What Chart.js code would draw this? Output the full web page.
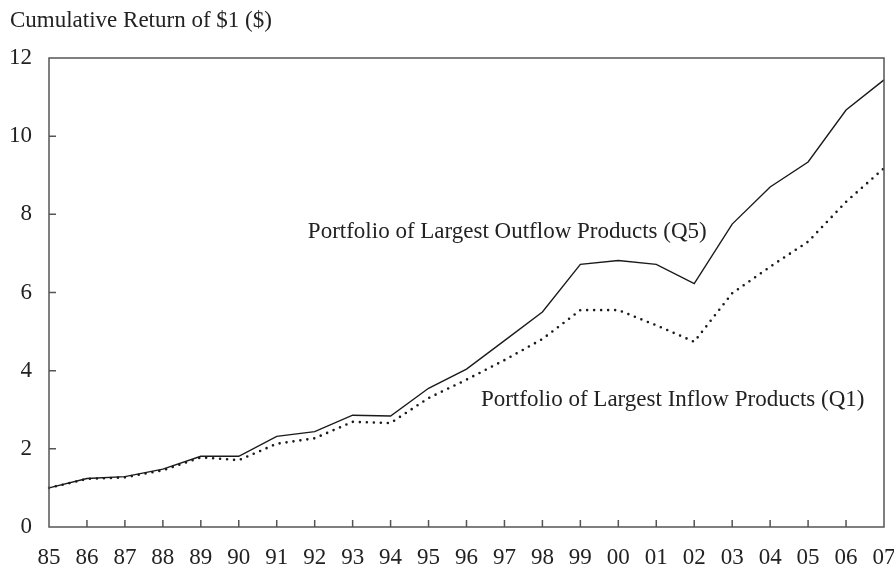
<!DOCTYPE html>
<html>
<head>
<meta charset="utf-8">
<script src="https://cdn.jsdelivr.net/npm/chart.js@4"></script>
<style>
    html, body { margin: 0; padding: 0; background: #fff; }
</style>
</head>
<body>
<canvas id="chart" width="894" height="567"></canvas>
<script>
"use strict";

// x軸：年
const years = ["85", "86", "87", "88", "89", "90", "91", "92", "93", "94", "95", "96",
               "97", "98", "99", "00", "01", "02", "03", "04", "05", "06", "07"];
// 流出最大ポートフォリオ (Q5)
const outflowQ5 = [1.00, 1.24, 1.29, 1.48, 1.81, 1.81, 2.32, 2.44, 2.86, 2.84, 3.55, 4.04,
                   4.77, 5.50, 6.72, 6.82, 6.72, 6.23, 7.75, 8.70, 9.34, 10.67, 11.44];
// 流入最大ポートフォリオ (Q1)
const inflowQ1 = [1.00, 1.23, 1.27, 1.45, 1.78, 1.71, 2.13, 2.27, 2.69, 2.66, 3.30, 3.77,
                  4.27, 4.81, 5.55, 5.55, 5.16, 4.74, 5.98, 6.66, 7.30, 8.32, 9.18];
// y軸の目盛
const yTicks = [0, 2, 4, 6, 8, 10, 12];

const FONT = "'Liberation Serif', 'Times New Roman', serif";
const FONT_SIZE = 23;
const TEXT_COLOR = "#222";
const AXIS_COLOR = "#555";

// 枠線と内向きの目盛線
const frameTicks = {
    id: "frameTicks",
    afterDraw(chart) {
        const { ctx, chartArea: { left, right, top, bottom }, scales: { x, y } } = chart;
        ctx.save();
        ctx.strokeStyle = AXIS_COLOR;
        ctx.lineWidth = 1.5;
        ctx.strokeRect(left, top, right - left, bottom - top);
        ctx.beginPath();
        x.ticks.forEach((t, i) => {
            if (i === 0 || i === x.ticks.length - 1) return;
            const px = x.getPixelForTick(i);
            ctx.moveTo(px, bottom);
            ctx.lineTo(px, bottom - 7);
        });
        y.ticks.forEach((t, i) => {
            if (i === 0 || i === y.ticks.length - 1) return;
            const py = y.getPixelForTick(i);
            ctx.moveTo(left, py);
            ctx.lineTo(left + 7, py);
        });
        ctx.stroke();
        ctx.restore();
    }
};

// 系列ラベル
const seriesLabels = {
    id: "seriesLabels",
    afterDraw(chart) {
        const { ctx, scales: { x, y } } = chart;
        const labels = [
            { text: "Portfolio of Largest Outflow Products (Q5)", at: [6.82, 7.55] },
            { text: "Portfolio of Largest Inflow Products (Q1)", at: [11.38, 3.24] },
        ];
        ctx.save();
        ctx.font = FONT_SIZE + "px " + FONT;
        ctx.fillStyle = TEXT_COLOR;
        ctx.textAlign = "left";
        ctx.textBaseline = "middle";
        labels.forEach(l => {
            ctx.fillText(l.text, x.getPixelForValue(l.at[0]), y.getPixelForValue(l.at[1]));
        });
        ctx.restore();
    }
};

const ctx = document.getElementById("chart");
new Chart(ctx, {
    type: "line",
    data: {
        labels: years,
        datasets: [
            {
                label: "Portfolio of Largest Outflow Products (Q5)",
                data: outflowQ5,
                borderColor: "#1a1a1a",
                borderWidth: 1.4,
                pointRadius: 0,
                tension: 0
            },
            {
                label: "Portfolio of Largest Inflow Products (Q1)",
                data: inflowQ1,
                borderColor: "#1a1a1a",
                borderWidth: 2.6,
                borderDash: [0, 7],
                borderCapStyle: "round",
                pointRadius: 0,
                tension: 0
            }
        ]
    },
    options: {
        responsive: false,
        animation: false,
        layout: { padding: { left: 10, right: 10, top: 0, bottom: 0 } },
        plugins: {
            legend: { display: false },
            tooltip: { enabled: false },
            title: {
                display: true,
                text: "Cumulative Return of $1 ($)",
                align: "start",
                color: TEXT_COLOR,
                font: { family: FONT, size: FONT_SIZE, weight: "normal" },
                padding: { top: 7, bottom: 23.4 }
            }
        },
        scales: {
            x: {
                offset: false,
                grid: { display: false, drawTicks: false },
                border: { display: false },
                ticks: {
                    color: TEXT_COLOR,
                    font: { family: FONT, size: FONT_SIZE },
                    padding: 17,
                    maxRotation: 0,
                    autoSkip: false
                },
                afterFit: scale => {
                    scale.height = 40;
                    // 端のラベルによる余白を無効化
                    scale.paddingLeft = 0;
                    scale.paddingRight = 0;
                }
            },
            y: {
                min: 0,
                max: 12,
                grid: { display: false, drawTicks: false },
                border: { display: false },
                afterBuildTicks: scale => {
                    scale.ticks = yTicks.map(v => ({ value: v }));
                },
                ticks: {
                    color: TEXT_COLOR,
                    font: { family: FONT, size: FONT_SIZE },
                    padding: 17
                },
                afterFit: scale => {
                    scale.width = 39;
                    scale.paddingTop = 0;
                    scale.paddingBottom = 0;
                }
            }
        }
    },
    plugins: [frameTicks, seriesLabels]
});
</script>
</body>
</html>
